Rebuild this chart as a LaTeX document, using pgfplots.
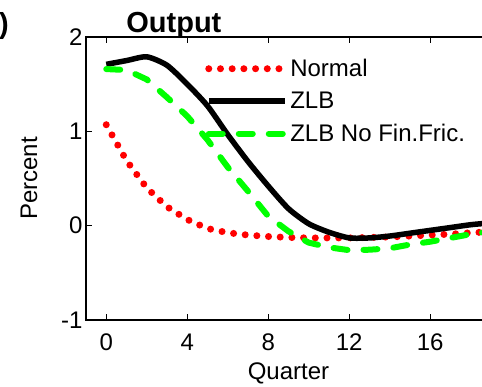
\documentclass[border=0pt]{standalone}
\usepackage{pgfplots}
\pgfplotsset{compat=1.18}
\usepackage{fontspec}
\setmainfont{Liberation Sans}
\begin{document}
\begin{tikzpicture}[font=\fontsize{24}{28}\selectfont]
\begin{axis}[
  at={(0pt,0pt)}, anchor=south west,
  scale only axis, width=405pt, height=283pt,
  xmin=-1, xmax=19, ymin=-1, ymax=2,
  xtick={0,4,8,12,16}, ytick={-1,0,1,2},
  yticklabels={-1,0,1,2},
  tick align=inside, major tick length=6pt,
  axis line style={line width=1.5pt},
  every tick/.style={black, line width=1.2pt},
  ytick pos=left,
  /pgf/number format/assume math mode=true,
  xticklabel style={yshift=-10pt},
  xlabel={Quarter}, ylabel={Percent},
  xlabel style={yshift=-5pt},
  ylabel style={yshift=17pt},
  title={\fontsize{29}{33}\selectfont\bfseries Output},
  title style={at={(0.217,1)}, anchor=base, yshift=-2pt},
  legend cell align=left,
  legend style={draw=none, fill=none, at={(0.294,0.929)}, anchor=north west, row sep=10pt, inner sep=0pt},
  legend image code/.code={\draw[#1] (0pt,0pt) -- (76pt,0pt);},
]
\addplot[red, line width=7pt, line cap=round, dash pattern=on 0pt off 11.7pt] coordinates {
(0,1.07) (1,0.69) (2,0.40) (3,0.20) (4,0.065) (5,-0.03) (6,-0.075) (7,-0.10) (8,-0.115) (9,-0.125) (10,-0.13) (11,-0.13) (12,-0.13) (13,-0.125) (14,-0.12) (15,-0.11) (16,-0.10) (17,-0.09) (18,-0.075) (19,-0.065) (20,-0.055)};
\addlegendentry{Normal}
\addplot[black, line width=5.5pt, line join=round, smooth, tension=0.4] coordinates {
(0,1.71) (1,1.75) (2,1.79) (3,1.70) (4,1.50) (5,1.27) (6,0.965) (7,0.68) (8,0.42) (9,0.18) (10,0.02) (11,-0.07) (12,-0.13) (13,-0.13) (14,-0.11) (15,-0.08) (16,-0.05) (17,-0.02) (18,0.01) (19,0.03) (20,0.05)};
\addlegendentry{ZLB}
\addplot[green, line width=6pt, line cap=round, dash pattern=on 14pt off 16pt] coordinates {
(0,1.66) (1,1.65) (2,1.55) (3,1.36) (4,1.16) (5,0.91) (6,0.62) (7,0.365) (8,0.10) (9,-0.06) (10,-0.18) (11,-0.23) (12,-0.26) (13,-0.255) (14,-0.24) (15,-0.20) (16,-0.17) (17,-0.13) (18,-0.09) (19,-0.06) (20,-0.03)};
\addlegendentry{ZLB No Fin.Fric.}
\end{axis}
\node[anchor=north east, inner sep=0pt, font=\fontsize{29}{33}\selectfont\bfseries] at (-77pt,308pt) {)};
\pgfresetboundingbox
\path (-86pt,-67pt) rectangle (396pt,320pt);
\end{tikzpicture}
\end{document}
